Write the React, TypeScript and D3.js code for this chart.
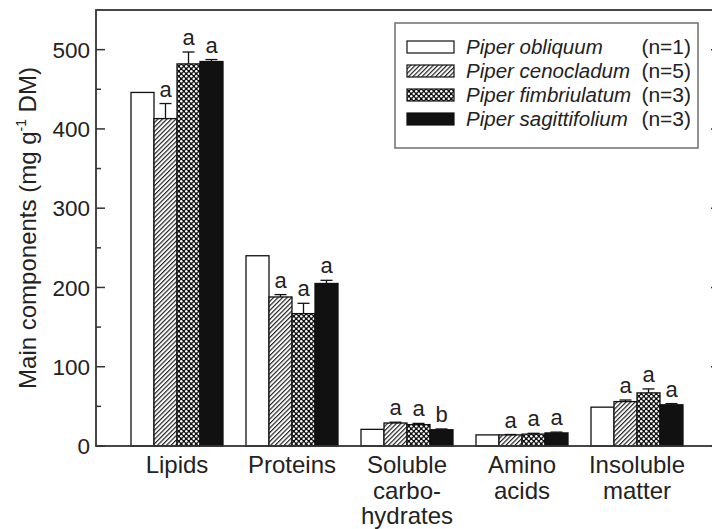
import React from "react";
import * as d3 from "d3";

const categories = ["Lipids", "Proteins", "Soluble carbohydrates", "Amino acids", "Insoluble matter"];
const categoryLines = [["Lipids"], ["Proteins"], ["Soluble", "carbo-", "hydrates"], ["Amino", "acids"], ["Insoluble", "matter"]];
const seriesNames = ["Piper obliquum", "Piper cenocladum", "Piper fimbriulatum", "Piper sagittifolium"];
const seriesN = ["(n=1)", "(n=5)", "(n=3)", "(n=3)"];

const obliquum = [446, 240, 21, 14, 49];
const cenocladum = [413, 188, 29, 14, 56];
const fimbriulatum = [482, 167, 27, 15, 67];
const sagittifolium = [485, 205, 20.5, 16.5, 52];

const obliquumErr = [0, 0, 0, 0, 0];
const cenocladumErr = [19, 3, 1, 0.5, 2];
const fimbriulatumErr = [15, 13, 1.5, 1, 5];
const sagittifoliumErr = [2.5, 4, 1, 1, 1.5];

const obliquumLetters = ["", "", "", "", ""];
const cenocladumLetters = ["a", "a", "a", "a", "a"];
const fimbriulatumLetters = ["a", "a", "a", "a", "a"];
const sagittifoliumLetters = ["a", "a", "b", "a", "a"];

const yMajorTicks = [0, 100, 200, 300, 400, 500];
const yMinorTicks = [50, 150, 250, 350, 450];

const seriesValues = [obliquum, cenocladum, fimbriulatum, sagittifolium];
const seriesErr = [obliquumErr, cenocladumErr, fimbriulatumErr, sagittifoliumErr];
const seriesLetters = [obliquumLetters, cenocladumLetters, fimbriulatumLetters, sagittifoliumLetters];
const fills = ["#fff", "url(#hatch)", "url(#cross)", "#111"];

const FONT = "'Liberation Sans', Arial, Helvetica, sans-serif";
const TXT = "#222";
const AX = "#333";

export default function App() {
  const W = 712, H = 529;
  const left = 96, top = 10, bottom = 446, right = 720;
  const x = d3.scaleBand<string>().domain(categories).range([119.5, 694.5]).paddingInner(0.2).paddingOuter(0.1);
  const xs = d3.scaleBand<string>().domain(seriesNames).range([0, x.bandwidth()]);
  const y = d3.scaleLinear().domain([0, 550]).range([bottom, top]);

  return (
    <svg width={W} height={H} style={{ position: "absolute", left: 0, top: 0, background: "#fff" }} fontFamily={FONT}>
      <defs>
        <pattern id="hatch" patternUnits="userSpaceOnUse" width={3.2} height={3.2} patternTransform="rotate(45)">
          <rect width={3.2} height={3.2} fill="#fff" />
          <line x1={0.6} y1={0} x2={0.6} y2={3.2} stroke="#111" strokeWidth={1.1} />
        </pattern>
        <pattern id="cross" patternUnits="userSpaceOnUse" width={5} height={5}>
          <rect width={5} height={5} fill="#111" />
          <circle cx={1.25} cy={1.25} r={1.25} fill="#fff" />
          <circle cx={3.75} cy={3.75} r={1.25} fill="#fff" />
        </pattern>
      </defs>

      {/* bars */}
      {categories.map((c, ci) => (
        <g key={c}>
          {seriesNames.map((s, si) => {
            const v = seriesValues[si][ci];
            const e = seriesErr[si][ci];
            const bx = (x(c) as number) + (xs(s) as number);
            const bw = xs.bandwidth();
            const cx = bx + bw / 2;
            const letter = seriesLetters[si][ci];
            return (
              <g key={s}>
                <rect x={bx} y={y(v)} width={bw} height={y(0) - y(v)} fill={fills[si]} stroke="#111" strokeWidth={1.3} />
                {e > 0 && (
                  <g stroke="#111" strokeWidth={1.3}>
                    <line x1={cx} x2={cx} y1={y(v)} y2={y(v + e)} />
                    <line x1={cx - 6} x2={cx + 6} y1={y(v + e)} y2={y(v + e)} />
                  </g>
                )}
                {letter && (
                  <text x={cx} y={y(v + e) - 7} textAnchor="middle" fontSize={22} fill={TXT}>{letter}</text>
                )}
              </g>
            );
          })}
        </g>
      ))}

      {/* frame */}
      <rect x={left} y={top} width={right - left} height={bottom - top} fill="none" stroke={AX} strokeWidth={1.8} />
      {yMajorTicks.map((t) => (
        <g key={"M" + t} stroke={AX} strokeWidth={1.5}>
          <line x1={left} x2={left + 9} y1={y(t)} y2={y(t)} />
          <line x1={right} x2={right - 9} y1={y(t)} y2={y(t)} />
        </g>
      ))}
      {yMinorTicks.map((t) => (
        <g key={"m" + t} stroke={AX} strokeWidth={1.5}>
          <line x1={left} x2={left + 5} y1={y(t)} y2={y(t)} />
          <line x1={right} x2={right - 5} y1={y(t)} y2={y(t)} />
        </g>
      ))}
      {yMajorTicks.map((t) => (
        <text key={"l" + t} x={90} y={y(t)} dy="0.36em" textAnchor="end" fontSize={22.5} fill={TXT}>{t}</text>
      ))}

      {/* y title */}
      <text transform={`translate(36,${(top + bottom) / 2}) rotate(-90)`} textAnchor="middle" fontSize={24} fill={TXT}>
        Main components (mg g
        <tspan dy={-10} fontSize={14}>-1</tspan>
        <tspan dy={10}> DM)</tspan>
      </text>

      {/* x labels */}
      {categories.map((c, ci) => (
        <text key={"x" + c} textAnchor="middle" fontSize={24} fill={TXT}>
          {categoryLines[ci].map((ln, li) => (
            <tspan key={li} x={(x(c) as number) + x.bandwidth() / 2} y={473 + li * 25.5}>{ln}</tspan>
          ))}
        </text>
      ))}

      {/* legend */}
      <rect x={395} y={23} width={303} height={125} fill="#fff" stroke="#777" strokeWidth={1.6} />
      {seriesNames.map((s, si) => {
        const cy = 47 + si * 24;
        return (
          <g key={"lg" + s}>
            <rect x={407} y={cy - 6} width={47} height={12} fill={fills[si]} stroke="#111" strokeWidth={1.2} />
            <text x={466} y={cy + 7} fontSize={20.5} fontStyle="italic" fill={TXT}>{s}</text>
            <text x={691} y={cy + 7} fontSize={21} textAnchor="end" fill={TXT}>{seriesN[si]}</text>
          </g>
        );
      })}
    </svg>
  );
}
